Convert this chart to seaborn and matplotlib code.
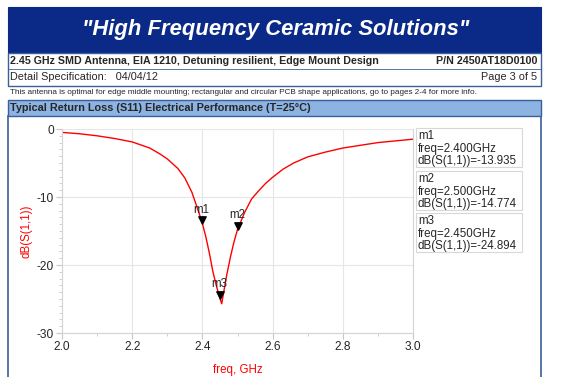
import numpy as np
import pandas as pd
import seaborn as sns
import matplotlib.pyplot as plt
from matplotlib.patches import Rectangle
from matplotlib.ticker import MultipleLocator

# S11 curve
freq = [2.00, 2.05, 2.10, 2.15, 2.20, 2.25, 2.28, 2.30, 2.33, 2.35, 2.37, 2.39, 2.40,
        2.41, 2.42, 2.43, 2.44, 2.45, 2.455, 2.46, 2.47, 2.48, 2.49, 2.50, 2.52,
        2.54, 2.56, 2.58, 2.60, 2.63, 2.66, 2.70, 2.75, 2.80, 2.85, 2.90, 2.95, 3.00]
s11 = [-0.5, -0.7, -1.0, -1.4, -1.9, -2.8, -3.7, -4.4, -5.8, -7.2, -9.3, -12.3, -13.9,
       -15.9, -18.3, -21.0, -23.1, -24.9, -25.7, -24.2, -21.3, -18.8, -16.6, -14.8, -12.3,
       -10.3, -9.1, -8.0, -7.1, -5.9, -5.0, -4.1, -3.4, -2.8, -2.4, -2.0, -1.75, -1.5]

marker_names = ["m1", "m2", "m3"]
marker_freq = [2.400, 2.500, 2.450]
marker_db = [-13.935, -14.774, -24.894]

df = pd.DataFrame({"freq": freq, "s11": s11})

sns.set_style("white")
plt.rcParams['font.family'] = ['Liberation Sans', 'DejaVu Sans']
plt.rcParams['axes.unicode_minus'] = False

W, H = 575, 377
fig = plt.figure(figsize=(W / 100, H / 100), dpi=100)

def fx(x):
    return x / W

def fy(y):
    return 1 - y / H

def box(x0, y0, x1, y1, **kw):
    fig.add_artist(Rectangle((fx(x0), fy(y1)), fx(x1) - fx(x0), fy(y0) - fy(y1),
                             transform=fig.transFigure, zorder=-1, **kw))

navy = "#0b2a87"
edge = "#3a5f9a"

# header band
box(8, 7, 541, 53, facecolor=navy, edgecolor=navy, lw=0.8)
fig.text(fx(276), fy(30), '"High Frequency Ceramic Solutions"', color="white",
         fontsize=15.8, style="italic", fontweight="bold", ha="center", va="center")

# info rows
box(8, 53, 541, 86, facecolor="white", edgecolor=edge, lw=1)
fig.add_artist(plt.Line2D([fx(8), fx(541)], [fy(69), fy(69)], color=edge, lw=0.6,
                          transform=fig.transFigure, zorder=-1))
fig.text(fx(10), fy(61), "2.45 GHz SMD Antenna, EIA 1210, Detuning resilient, Edge Mount Design",
         fontsize=7.7, fontweight="bold", va="center")
fig.text(fx(537), fy(61), "P/N 2450AT18D0100", fontsize=7.7, fontweight="bold",
         va="center", ha="right")
fig.text(fx(10), fy(77), "Detail Specification:   04/04/12", fontsize=7.8, va="center")
fig.text(fx(537), fy(77), "Page 3 of 5", fontsize=7.8, va="center", ha="right")
fig.text(fx(10), fy(93), "This antenna is optimal for edge middle mounting; rectangular and circular "
         "PCB shape applications, go to pages 2-4 for more info.", fontsize=5.85, va="center")

# section bar and panel
box(8, 116, 541, 380, facecolor="white", edgecolor=edge, lw=1.2)
box(8, 100, 541, 116, facecolor="#8db3e2", edgecolor=edge, lw=1)
fig.text(fx(10), fy(108), "Typical Return Loss (S11) Electrical Performance (T=25\u00b0C)",
         fontsize=7.8, fontweight="bold", va="center")

# plot area
ax = fig.add_axes([fx(62), fy(333), fx(413) - fx(62), fy(129) - fy(333)])
ax.set_zorder(2)
ax.patch.set_alpha(0)
sns.lineplot(data=df, x="freq", y="s11", color="red", lw=1, ax=ax)

ax.set_xlim(2.0, 3.0)
ax.set_ylim(-30, 0)
ax.xaxis.set_major_locator(MultipleLocator(0.2))
ax.xaxis.set_minor_locator(MultipleLocator(0.1))
ax.yaxis.set_major_locator(MultipleLocator(10))
ax.yaxis.set_minor_locator(MultipleLocator(1))
ax.xaxis.set_major_formatter(lambda v, pos: f"{v:.1f}")
ax.grid(True, which="major", color="#e6e6e6", lw=0.8)
for s in ax.spines.values():
    s.set_color("#d4d4d4")
    s.set_linewidth(0.8)
ax.spines["top"].set_visible(False)
ax.tick_params(axis="both", which="both", direction="out", color="#c8c8c8",
               labelsize=8.6, pad=2, left=True, bottom=True)
ax.tick_params(which="major", length=4)
ax.tick_params(which="minor", length=2.5)
ax.set_xlabel("freq, GHz", color="red", fontsize=8.3, labelpad=8)
ax.set_ylabel("dB(S(1,1))", color="red", fontsize=8.3, labelpad=3)

# markers
ax.scatter(marker_freq, [v + 0.5 for v in marker_db], marker="v", s=28, color="black", zorder=5)
for name, f, v in zip(marker_names, marker_freq, marker_db):
    ax.text(f - 0.002, v + 1.2, name, fontsize=8.3, ha="center", va="bottom")

# marker readout boxes
tops = [128, 171, 213]
for name, f, v, t in zip(marker_names, marker_freq, marker_db, tops):
    box(416, t, 522, t + 39, facecolor="white", edgecolor="#d8d8d8", lw=0.8)
    fig.text(fx(418), fy(t + 2), f"{name}\nfreq={f:.3f}GHz\ndB(S(1,1))={v:.3f}",
             fontsize=8.3, va="top", ha="left", linespacing=1.07)

fig.savefig("out.png", dpi=100)
